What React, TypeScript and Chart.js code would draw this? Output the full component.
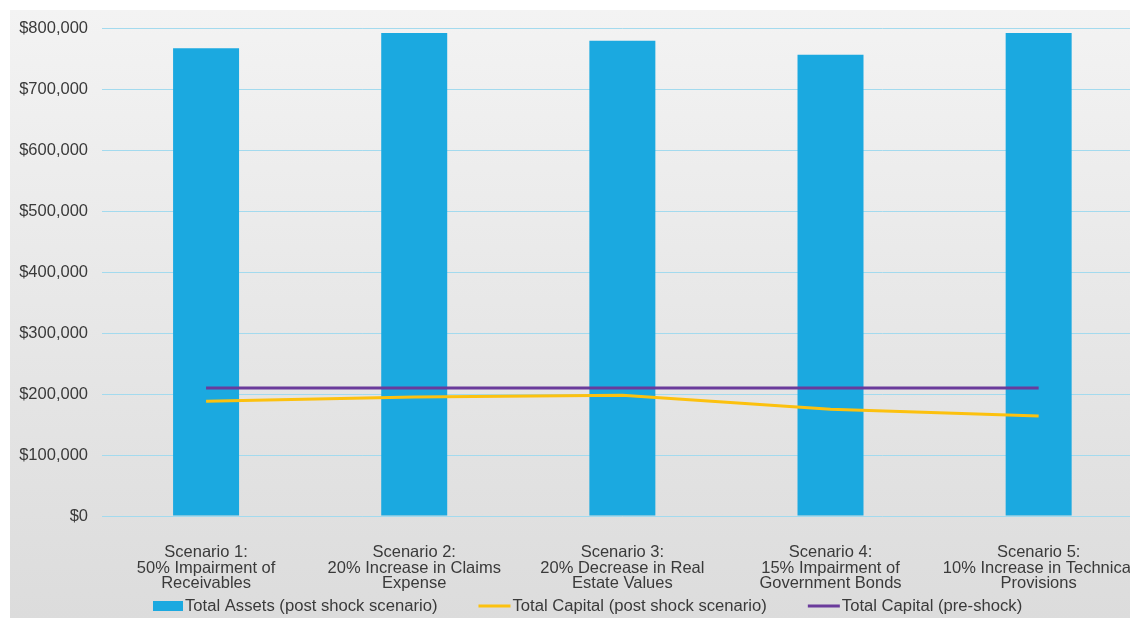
import React, { useEffect, useRef } from "react";
import { Chart, registerables } from "chart.js";

Chart.register(...registerables);

const categories: string[][] = [
  ["Scenario 1:", "50% Impairment of", "Receivables"],
  ["Scenario 2:", "20% Increase in Claims", "Expense"],
  ["Scenario 3:", "20% Decrease in Real", "Estate Values"],
  ["Scenario 4:", "15% Impairment of", "Government Bonds"],
  ["Scenario 5:", "10% Increase in Technical", "Provisions"],
];

const totalAssetsPost = [767000, 792000, 779000, 756000, 792000];
const totalCapitalPost = [188000, 195000, 198000, 175000, 164000];
const totalCapitalPre = [210000, 210000, 210000, 210000, 210000];

const seriesNames = [
  "Total Assets (post shock scenario)",
  "Total Capital (post shock scenario)",
  "Total Capital (pre-shock)",
];

const yMin = 0;
const yMax = 800000;
const yStep = 100000;

const BLUE = "#1ba9e0";
const YELLOW = "#fcc10f";
const PURPLE = "#6a3b9b";
const TEXT = "#3a3a3a";
const FONT = "'Liberation Sans', Arial, Helvetica, sans-serif";
const FS = 16.5;
const LEGEND_FS = 16.65;

const bgPlugin = {
  id: "bgPlugin",
  beforeDraw(chart: any) {
    const { ctx, width, height } = chart;
    ctx.save();
    ctx.fillStyle = "#ffffff";
    ctx.fillRect(0, 0, width, height);
    const g = ctx.createLinearGradient(0, 10, 0, height);
    g.addColorStop(0, "#f3f3f3");
    g.addColorStop(1, "#dcdcdc");
    ctx.fillStyle = g;
    ctx.fillRect(10, 10, width - 10, height - 10);
    ctx.restore();
  },
};

const legendPlugin = {
  id: "customLegend",
  afterDraw(chart: any) {
    const { ctx } = chart;
    const colors = [BLUE, YELLOW, PURPLE];
    const kinds = ["box", "line", "line"];
    const y = 606;
    let x = 153;
    ctx.save();
    ctx.font = `${LEGEND_FS}px ${FONT}`;
    ctx.textBaseline = "middle";
    ctx.textAlign = "left";
    seriesNames.forEach((name, i) => {
      if (kinds[i] === "box") {
        ctx.fillStyle = colors[i];
        ctx.fillRect(x, y - 5, 30, 10);
        x += 32;
      } else {
        ctx.strokeStyle = colors[i];
        ctx.lineWidth = 3;
        ctx.beginPath();
        ctx.moveTo(x, y);
        ctx.lineTo(x + 32, y);
        ctx.stroke();
        x += 34;
      }
      ctx.fillStyle = TEXT;
      ctx.fillText(name, x, y);
      x += ctx.measureText(name).width + 41;
    });
    ctx.restore();
  },
};

export default function App() {
  const ref = useRef<HTMLCanvasElement | null>(null);

  useEffect(() => {
    if (!ref.current) return;
    const chart = new Chart(ref.current, {
      type: "bar",
      data: {
        labels: categories,
        datasets: [
          {
            type: "bar",
            label: seriesNames[0],
            data: totalAssetsPost,
            backgroundColor: BLUE,
            barPercentage: 0.317,
            categoryPercentage: 1.0,
            order: 3,
          },
          {
            type: "line",
            label: seriesNames[1],
            data: totalCapitalPost,
            borderColor: YELLOW,
            backgroundColor: YELLOW,
            borderWidth: 3,
            pointRadius: 0,
            tension: 0,
            order: 2,
          },
          {
            type: "line",
            label: seriesNames[2],
            data: totalCapitalPre,
            borderColor: PURPLE,
            backgroundColor: PURPLE,
            borderWidth: 3,
            pointRadius: 0,
            tension: 0,
            order: 1,
          },
        ] as any,
      },
      options: {
        animation: false,
        responsive: false,
        layout: { padding: { left: 10, top: 28, right: 0, bottom: 0 } },
        plugins: {
          legend: { display: false },
          tooltip: { enabled: false },
        },
        scales: {
          x: {
            grid: { display: false, drawTicks: false },
            border: { display: false },
            ticks: {
              color: TEXT,
              font: { family: FONT, size: FS, lineHeight: 0.95 },
              padding: 28.5,
              maxRotation: 0,
              autoSkip: false,
            },
            afterFit(scale: any) {
              scale.height = 102;
            },
          },
          y: {
            min: yMin,
            max: yMax,
            grid: { color: "#a3daee", lineWidth: 1, drawTicks: false },
            border: { display: false },
            ticks: {
              stepSize: yStep,
              color: TEXT,
              font: { family: FONT, size: FS },
              padding: 14,
              callback: (v: any) => "$" + Number(v).toLocaleString("en-US"),
            },
            afterFit(scale: any) {
              scale.width = 92;
            },
          },
        },
      },
      plugins: [bgPlugin, legendPlugin],
    });
    return () => chart.destroy();
  }, []);

  return (
    <div
      style={{
        position: "fixed",
        left: 0,
        top: 0,
        width: 1130,
        height: 618,
        overflow: "hidden",
        background: "#fff",
      }}
    >
      <canvas ref={ref} width={1163} height={618} style={{ display: "block" }} />
    </div>
  );
}
